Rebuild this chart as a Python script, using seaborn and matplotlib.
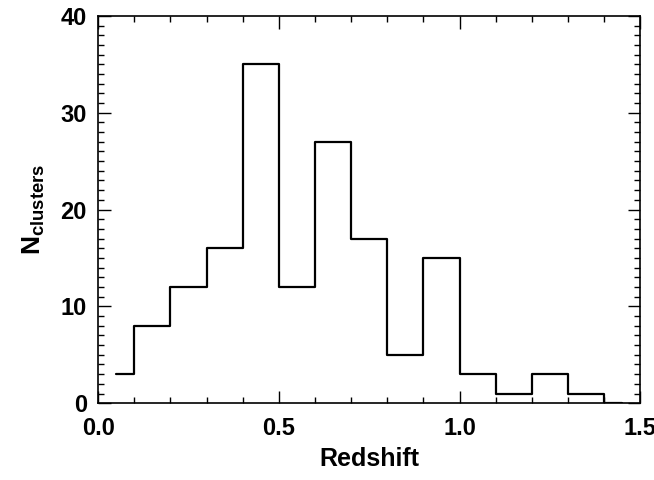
import matplotlib
matplotlib.use("Agg")
import matplotlib.pyplot as plt
import seaborn as sns
import pandas as pd
from matplotlib.ticker import MultipleLocator, FormatStrFormatter

# Histogram of cluster redshifts (bin centres, counts per 0.1 bin)
z_centres = [0.05, 0.15, 0.25, 0.35, 0.45, 0.55, 0.65, 0.75,
             0.85, 0.95, 1.05, 1.15, 1.25, 1.35, 1.45]
n_clusters = [3, 8, 12, 16, 35, 12, 27, 17, 5, 15, 3, 1, 3, 1, 0]

df = pd.DataFrame({"z": z_centres, "n": n_clusters})

sns.set_style("ticks")
plt.rcParams['font.family'] = ['Liberation Sans', 'DejaVu Sans']
plt.rcParams['font.weight'] = 'bold'
plt.rcParams['mathtext.fontset'] = 'custom'
plt.rcParams['mathtext.rm'] = 'Liberation Sans:bold'
plt.rcParams['mathtext.bf'] = 'Liberation Sans:bold'

fig = plt.figure(figsize=(6.54, 4.80), dpi=100)
ax = fig.add_axes([0.150, 0.160, 0.829, 0.807])

# IDL psym=10 style step histogram
sns.lineplot(data=df, x="z", y="n", drawstyle="steps-mid", color="black",
             linewidth=1.6, ax=ax)

ax.set_xlim(0, 1.5)
ax.set_ylim(0, 40)
ax.xaxis.set_major_locator(MultipleLocator(0.5))
ax.xaxis.set_minor_locator(MultipleLocator(0.1))
ax.yaxis.set_major_locator(MultipleLocator(10))
ax.yaxis.set_minor_locator(MultipleLocator(1))
ax.xaxis.set_major_formatter(FormatStrFormatter('%.1f'))

ax.tick_params(which='both', direction='in', top=True, right=True,
               colors='black', labelcolor='black', width=1.0)
ax.tick_params(which='major', length=9, labelsize=17)
ax.tick_params(axis='x', which='major', pad=10)
ax.tick_params(axis='y', which='major', pad=8)
ax.tick_params(which='minor', length=4.5)

for s in ax.spines.values():
    s.set_linewidth(1.2)
    s.set_color('black')

for lbl in ax.get_xticklabels() + ax.get_yticklabels():
    lbl.set_fontweight('bold')

ax.set_xlabel("Redshift", fontsize=18, fontweight='bold', color='black',
              labelpad=5)
ax.set_ylabel(r"$\mathrm{N}_{\mathrm{clusters}}$", fontsize=19,
              color='black', labelpad=10)

fig.savefig("out.png", dpi=100)
